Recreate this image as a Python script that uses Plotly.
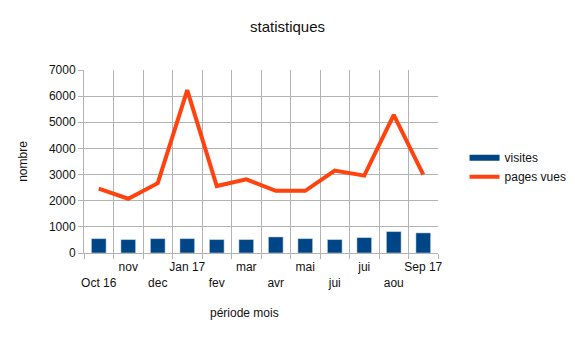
import plotly.graph_objects as go

# Monthly site statistics, Oct 2016 - Sep 2017
mois = ["Oct 16", "nov", "dec", "Jan 17", "fev", "mar",
        "avr", "mai", "jui", "jui", "aou", "Sep 17"]
visites = [550, 515, 550, 550, 515, 515, 615, 550, 515, 590, 820, 770]
pages_vues = [2460, 2075, 2670, 6230, 2560, 2820, 2380, 2380, 3150, 2960, 5280, 3000]
y_ticks = [0, 1000, 2000, 3000, 4000, 5000, 6000, 7000]

BLUE = "#004586"
ORANGE = "#ff420e"
GRID = "#b3b3b3"
FONT = "Liberation Sans, Arial, sans-serif"

pos = list(range(len(mois)))
# staggered month labels: every other one on a second line
labels = [("<br>" + m) if i % 2 == 0 else m for i, m in enumerate(mois)]
bounds = [i - 0.5 for i in range(len(mois) + 1)]

fig = go.Figure()
fig.add_trace(go.Bar(x=pos, y=visites, name="visites", marker_color=BLUE,
                     width=0.5, showlegend=False))
# legend key for the bars, drawn as a wide band
fig.add_trace(go.Scatter(x=[None], y=[None], mode="lines", name="visites",
                         line=dict(color=BLUE, width=6)))
fig.add_trace(go.Scatter(x=pos, y=pages_vues, mode="lines", name="pages vues",
                         line=dict(color=ORANGE, width=4)))

fig.update_layout(
    width=575, height=339,
    margin=dict(l=84, r=137, t=70, b=86, autoexpand=False),
    paper_bgcolor="white", plot_bgcolor="white",
    font=dict(family=FONT, size=12, color="#111"),
    title=dict(text="statistiques", x=0.5, xanchor="center", y=0.92,
               yanchor="middle", font=dict(size=15, color="#111")),
    showlegend=True,
    legend=dict(x=1.075, xanchor="left", y=0.6, yanchor="top",
                font=dict(size=12), tracegroupgap=0, itemwidth=30,
                bgcolor="rgba(0,0,0,0)"),
    bargap=0.5,
)

fig.update_xaxes(
    range=[-0.5, len(mois) - 0.5],
    tickmode="array", tickvals=pos, ticktext=labels, tickangle=0,
    ticks="", showgrid=False, zeroline=False, ticklabelstandoff=3,
    showline=True, linecolor=GRID, linewidth=1,
    tickfont=dict(size=12, color="#111"),
    minor=dict(tickmode="array", tickvals=bounds, ticks="outside", ticklen=5,
               tickcolor=GRID, showgrid=True, gridcolor=GRID, gridwidth=1),
)
fig.update_yaxes(
    range=[0, 7000], tickmode="array", tickvals=y_ticks,
    ticks="outside", ticklen=5, tickcolor=GRID,
    showgrid=True, gridcolor=GRID, gridwidth=1, zeroline=False,
    showline=True, linecolor=GRID, linewidth=1,
    tickfont=dict(size=12, color="#111"),
    title=dict(text="nombre", standoff=18, font=dict(size=12, color="#111")),
)

fig.add_annotation(text="période mois", xref="paper", yref="paper",
                   x=(244 - 84) / 354, y=0, xanchor="center", yanchor="middle",
                   yshift=-60, showarrow=False, font=dict(size=12, color="#111"))

fig.write_html("out.html")
